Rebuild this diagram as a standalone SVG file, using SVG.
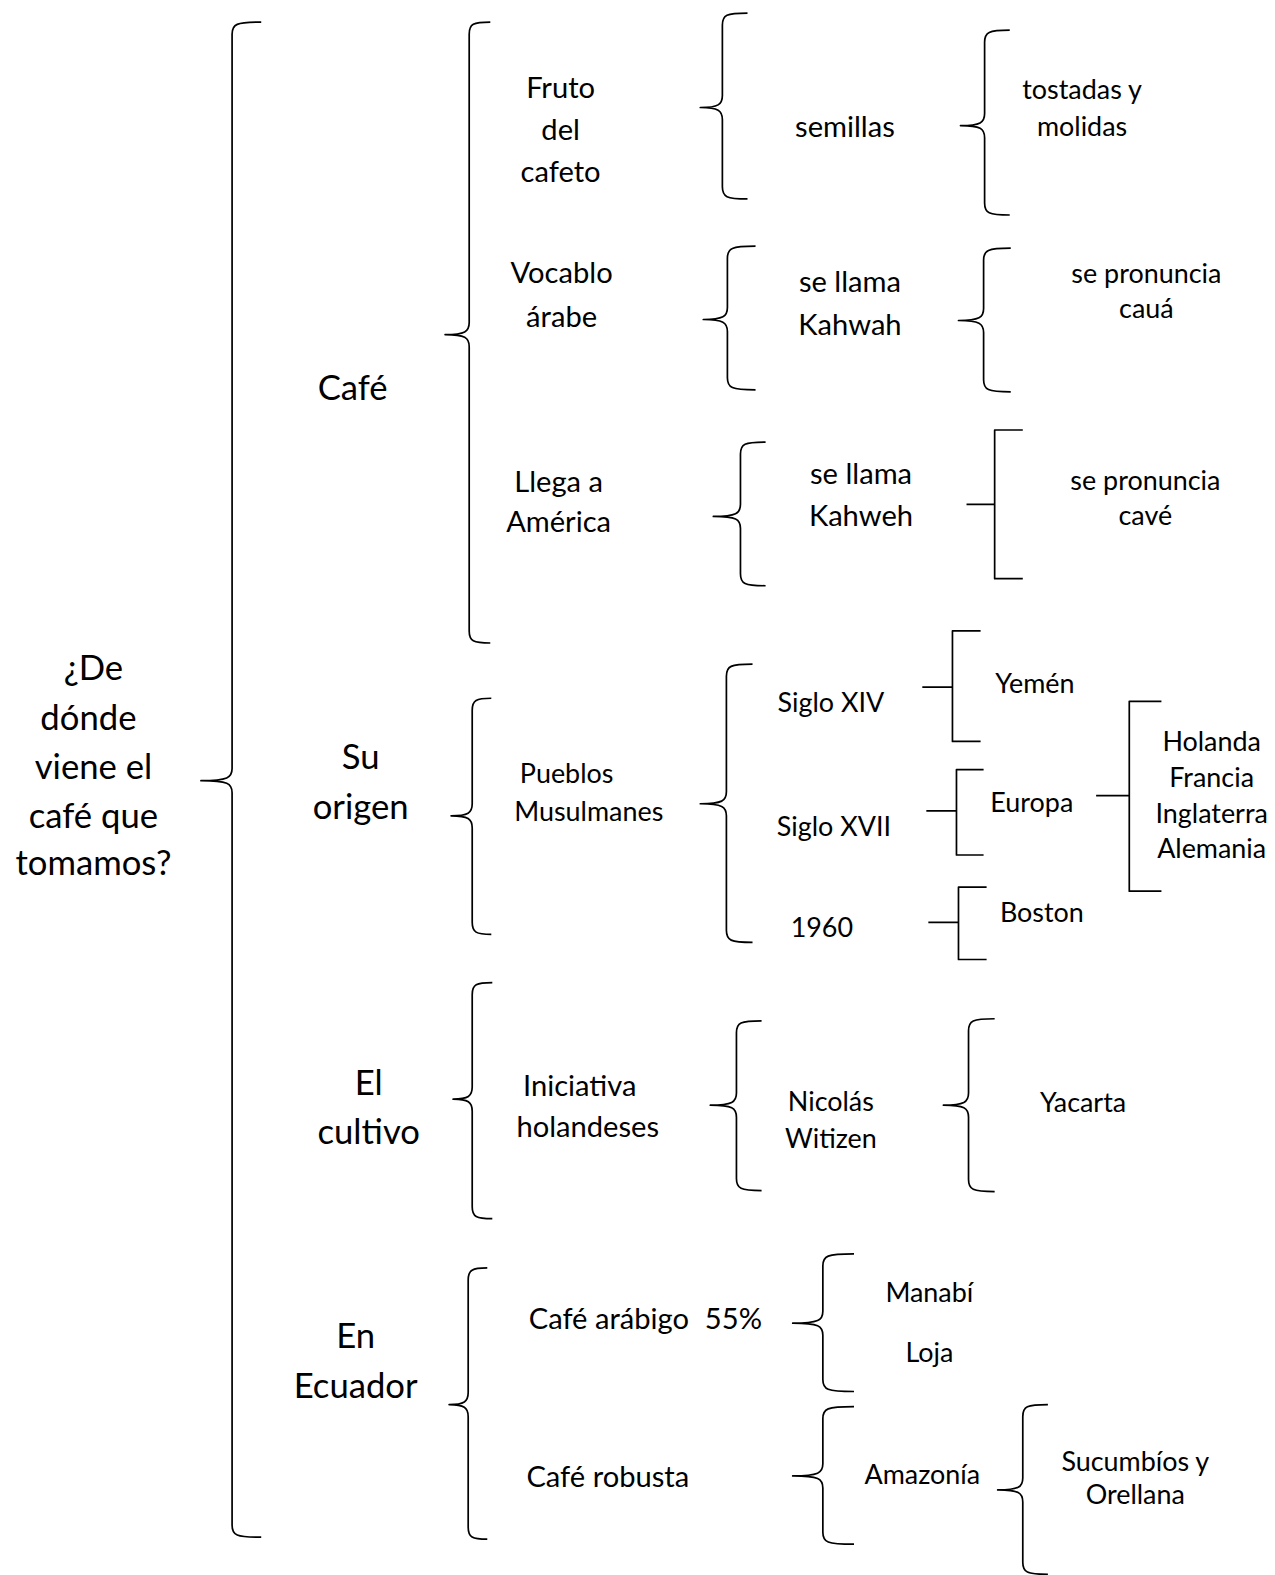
<svg xmlns="http://www.w3.org/2000/svg" width="1275" height="1575" viewBox="0 0 1275 1575">
<style>
.b{fill:none;stroke:#000;stroke-width:1.7;stroke-linejoin:round}
text{font-family:Lato,"Open Sans","Liberation Sans",sans-serif;text-anchor:middle;fill:#000}
.L{font-size:34.5px}
.M{font-size:29px}
.S{font-size:26.8px}
</style>
<rect width="1275" height="1575" fill="#fff"/>
<g transform="scale(1.0047)">
<g id="connectors">
<path class="b" d="M260,22 C235,22 231,24 231,34 L231,765 C231,774 227,777 200,777 C227,777 231,780 231,789 L231,1518 C231,1528 235,1530 260,1530"/>
<path class="b" d="M488,22 C471,22 467,24 467,34 L467,321 C467,330 463,333 443,333 C463,333 467,336 467,345 L467,628 C467,638 471,640 488,640"/>
<path class="b" d="M744,13 C723,13 719,15 719,25 L719,95 C719,104 715,107 697,107 C715,107 719,110 719,119 L719,186 C719,196 723,198 744,198"/>
<path class="b" d="M1005,30 C984,30 980,32 980,42 L980,113 C980,122 976,125 956,125 C976,125 980,128 980,137 L980,202 C980,212 984,214 1005,214"/>
<path class="b" d="M752,245 C728,245 724,247 724,257 L724,306 C724,315 720,318 700,318 C720,318 724,321 724,330 L724,376 C724,386 728,388 752,388"/>
<path class="b" d="M1006,247 C983,247 979,249 979,259 L979,307 C979,316 975,319 954,319 C975,319 979,322 979,331 L979,378 C979,388 983,390 1006,390"/>
<path class="b" d="M762,440 C741,440 737,442 737,452 L737,502 C737,511 733,514 710,514 C733,514 737,517 737,526 L737,571 C737,581 741,583 762,583"/>
<path class="b" d="M1018,428 H990 V576 H1018 M962,502 H990"/>
<path class="b" d="M489,695 C474,695 470,697 470,707 L470,800 C470,809 466,812 449,812 C466,812 470,815 470,824 L470,918 C470,928 474,930 489,930"/>
<path class="b" d="M749,661 C727,661 723,663 723,673 L723,788 C723,797 719,800 697,800 C719,800 723,803 723,812 L723,926 C723,936 727,938 749,938"/>
<path class="b" d="M976,628 H948 V738 H976 M918,684 H948"/>
<path class="b" d="M979,766 H952 V851 H979 M922,807 H952"/>
<path class="b" d="M982,883 H954 V955 H982 M924,918 H954"/>
<path class="b" d="M1156,698 H1124 V887 H1156 M1091,792 H1124"/>
<path class="b" d="M490,978 C474,978 470,980 470,990 L470,1082 C470,1091 466,1094 451,1094 C466,1094 470,1097 470,1106 L470,1201 C470,1211 474,1213 490,1213"/>
<path class="b" d="M758,1016 C737,1016 733,1018 733,1028 L733,1088 C733,1097 729,1100 707,1100 C729,1100 733,1103 733,1112 L733,1173 C733,1183 737,1185 758,1185"/>
<path class="b" d="M990,1014 C968,1014 964,1016 964,1026 L964,1088 C964,1097 960,1100 939,1100 C960,1100 964,1103 964,1112 L964,1174 C964,1184 968,1186 990,1186"/>
<path class="b" d="M485,1262 C470,1262 466,1264 466,1274 L466,1386 C466,1395 462,1398 447,1398 C462,1398 466,1401 466,1410 L466,1520 C466,1530 470,1532 485,1532"/>
<path class="b" d="M850,1248 C823,1248 819,1250 819,1260 L819,1305 C819,1314 815,1317 789,1317 C815,1317 819,1320 819,1329 L819,1373 C819,1383 823,1385 850,1385"/>
<path class="b" d="M850,1400 C823,1400 819,1402 819,1412 L819,1457 C819,1466 815,1469 789,1469 C815,1469 819,1472 819,1481 L819,1525 C819,1535 823,1537 850,1537"/>
<path class="b" d="M1043,1398 C1022,1398 1018,1400 1018,1410 L1018,1471 C1018,1480 1014,1483 993,1483 C1014,1483 1018,1486 1018,1495 L1018,1555 C1018,1565 1022,1567 1043,1567"/>
</g>
<g id="n-root"><text class="L" x="93" y="677">¿De</text><text class="L" x="88" y="727">dónde</text><text class="L" x="93" y="775">viene el</text><text class="L" x="93" y="824">café que</text><text class="L" x="93" y="871">tomamos?</text></g>
<g id="n-cafe"><text class="L" x="351" y="398">Café</text></g>
<g id="n-fruto"><text class="M" x="558" y="98">Fruto</text><text class="M" x="558" y="139">del</text><text class="M" x="558" y="181">cafeto</text></g>
<g id="n-vocablo"><text class="M" x="559" y="282">Vocablo</text><text class="M" x="559" y="325">árabe</text></g>
<g id="n-llega"><text class="M" x="556" y="490">Llega a</text><text class="M" x="556" y="530">América</text></g>
<g id="n-semillas"><text class="M" x="841" y="136">semillas</text></g>
<g id="n-tostadas"><text class="S" x="1077" y="99">tostadas y</text><text class="S" x="1077" y="135">molidas</text></g>
<g id="n-kahwah"><text class="M" x="846" y="291">se llama</text><text class="M" x="846" y="333">Kahwah</text></g>
<g id="n-caua"><text class="S" x="1141" y="282">se pronuncia</text><text class="S" x="1141" y="317">cauá</text></g>
<g id="n-kahweh"><text class="M" x="857" y="482">se llama</text><text class="M" x="857" y="524">Kahweh</text></g>
<g id="n-cave"><text class="S" x="1140" y="488">se pronuncia</text><text class="S" x="1140" y="523">cavé</text></g>
<g id="n-origen"><text class="L" x="359" y="765">Su</text><text class="L" x="359" y="815">origen</text></g>
<g id="n-pueblos"><text class="S" x="564" y="779">Pueblos</text><text class="S" x="586" y="817">Musulmanes</text></g>
<g id="n-xiv"><text class="S" x="827" y="709">Siglo XIV</text></g>
<g id="n-xvii"><text class="S" x="830" y="832">Siglo XVII</text></g>
<g id="n-1960"><text class="S" x="818" y="933">1960</text></g>
<g id="n-yemen"><text class="S" x="1030" y="690">Yemén</text></g>
<g id="n-europa"><text class="S" x="1027" y="808">Europa</text></g>
<g id="n-boston"><text class="S" x="1037" y="918">Boston</text></g>
<g id="n-paises"><text class="S" x="1206" y="747">Holanda</text><text class="S" x="1206" y="783">Francia</text><text class="S" x="1206" y="819">Inglaterra</text><text class="S" x="1206" y="854">Alemania</text></g>
<g id="n-cultivo"><text class="L" x="367" y="1090">El</text><text class="L" x="367" y="1139">cultivo</text></g>
<g id="n-iniciativa"><text class="M" x="577" y="1091">Iniciativa</text><text class="M" x="585" y="1132">holandeses</text></g>
<g id="n-nicolas"><text class="S" x="827" y="1106">Nicolás</text><text class="S" x="827" y="1143">Witizen</text></g>
<g id="n-yacarta"><text class="S" x="1078" y="1107">Yacarta</text></g>
<g id="n-ecuador"><text class="L" x="354" y="1342">En</text><text class="L" x="354" y="1391">Ecuador</text></g>
<g id="n-arabigo"><text class="M" y="1323"><tspan x="606">Café arábigo</tspan><tspan x="730">55%</tspan></text></g>
<g id="n-manabi"><text class="S" x="925" y="1296">Manabí</text><text class="S" x="925" y="1356">Loja</text></g>
<g id="n-robusta"><text class="M" x="605" y="1480">Café robusta</text></g>
<g id="n-amazonia"><text class="S" x="918" y="1477">Amazonía</text></g>
<g id="n-sucumbios"><text class="S" x="1130" y="1464">Sucumbíos y</text><text class="S" x="1130" y="1497">Orellana</text></g>
</g>
</svg>
